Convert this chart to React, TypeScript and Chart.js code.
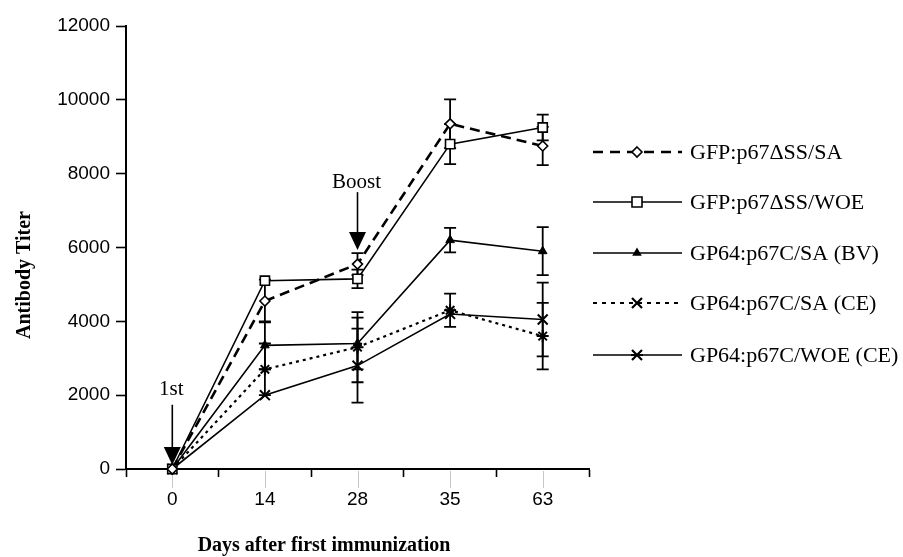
import React, { useEffect, useRef } from 'react';
import { Chart, registerables } from 'chart.js';

Chart.register(...registerables);

// ---------- data ----------
const days = ['0', '14', '28', '35', '63'];
const yMin = 0;
const yMax = 12000;
const yStep = 2000;

const seriesNames = [
  'GFP:p67ΔSS/SA',
  'GFP:p67ΔSS/WOE',
  'GP64:p67C/SA (BV)',
  'GP64:p67C/SA (CE)',
  'GP64:p67C/WOE (CE)',
];

const gfpSA = [0, 4550, 5550, 9350, 8750];
const gfpSAErr = [0, 580, 300, 660, 520];
const gfpWOE = [0, 5100, 5150, 8800, 9250];
const gfpWOEErr = [0, 0, 250, 540, 350];
const gp64BV = [0, 3350, 3400, 6200, 5900];
const gp64BVErr = [0, 650, 700, 330, 650];
const gp64SACE = [0, 2700, 3300, 4300, 3600];
const gp64SACEErr = [0, 700, 950, 450, 900];
const gp64WOECE = [0, 2000, 2800, 4200, 4050];
const gp64WOECEErr = [0, 0, 1000, 0, 1000];

const xTitle = 'Days after first immunization';
const yTitle = 'Antibody Titer';

// annotation arrows: category index, label, label baseline value, tail value, tip value
const arrowCats = [0, 2];
const arrowLabels = ['1st', 'Boost'];
const arrowLabelVals = [2000, 7620];
const arrowTailVals = [1740, 7500];
const arrowTipVals = [110, 5930];

// ---------- styles ----------
const W = 903;
const H = 557;
const legendMarkers = ['diamond', 'square', 'triangle', 'cross', 'star'];
const legendDash = [[10, 7], [], [], [4, 5], []];

function drawMarker(ctx: CanvasRenderingContext2D, kind: string, x: number, y: number) {
  ctx.save();
  ctx.strokeStyle = '#000';
  ctx.lineWidth = 1.6;
  ctx.setLineDash([]);
  ctx.beginPath();
  if (kind === 'diamond') {
    const r = 5;
    ctx.moveTo(x, y - r);
    ctx.lineTo(x + r, y);
    ctx.lineTo(x, y + r);
    ctx.lineTo(x - r, y);
    ctx.closePath();
    ctx.fillStyle = '#fff';
    ctx.fill();
    ctx.stroke();
  } else if (kind === 'square') {
    const r = 5;
    ctx.rect(x - r, y - r, 2 * r, 2 * r);
    ctx.fillStyle = '#fff';
    ctx.fill();
    ctx.stroke();
  } else if (kind === 'triangle') {
    const r = 5.5;
    ctx.moveTo(x, y - r);
    ctx.lineTo(x + r * 0.87, y + r * 0.5);
    ctx.lineTo(x - r * 0.87, y + r * 0.5);
    ctx.closePath();
    ctx.fillStyle = '#000';
    ctx.fill();
  } else if (kind === 'cross') {
    const r = 5;
    ctx.lineWidth = 2.2;
    ctx.moveTo(x - r, y - r);
    ctx.lineTo(x + r, y + r);
    ctx.moveTo(x + r, y - r);
    ctx.lineTo(x - r, y + r);
    ctx.stroke();
  } else if (kind === 'star') {
    const r = 5;
    ctx.lineWidth = 2.2;
    ctx.moveTo(x - r, y - r);
    ctx.lineTo(x + r, y + r);
    ctx.moveTo(x + r, y - r);
    ctx.lineTo(x - r, y + r);
    ctx.moveTo(x - r - 1, y);
    ctx.lineTo(x + r + 1, y);
    ctx.stroke();
  }
  ctx.restore();
}

const errorBarPlugin = {
  id: 'errorBars',
  beforeDatasetsDraw(chart: any) {
    const { ctx, scales } = chart;
    const x = scales.x;
    const y = scales.y;
    ctx.save();
    ctx.strokeStyle = '#000';
    ctx.lineWidth = 1.8;
    ctx.setLineDash([]);
    chart.data.datasets.forEach((ds: any) => {
      const errs: number[] = ds.errors || [];
      ds.data.forEach((v: number, j: number) => {
        const e = errs[j];
        if (!e) return;
        const px = x.getPixelForValue(j);
        const top = y.getPixelForValue(v + e);
        const bot = y.getPixelForValue(v - e);
        ctx.beginPath();
        ctx.moveTo(px, top);
        ctx.lineTo(px, bot);
        ctx.moveTo(px - 6, top);
        ctx.lineTo(px + 6, top);
        ctx.moveTo(px - 6, bot);
        ctx.lineTo(px + 6, bot);
        ctx.stroke();
      });
    });
    // light centre marks under categories
    ctx.strokeStyle = '#c8c8c8';
    ctx.lineWidth = 1;
    days.forEach((_, j) => {
      const px = Math.round(x.getPixelForValue(j)) + 0.5;
      ctx.beginPath();
      ctx.moveTo(px, y.bottom + 2);
      ctx.lineTo(px, y.bottom + 19);
      ctx.stroke();
    });
    ctx.restore();
  },
};

const decorPlugin = {
  id: 'decor',
  afterDraw(chart: any) {
    const { ctx, scales } = chart;
    const x = scales.x;
    const y = scales.y;
    ctx.save();
    // arrows
    arrowCats.forEach((c, i) => {
      const px = x.getPixelForValue(c);
      const tail = y.getPixelForValue(arrowTailVals[i]);
      const tip = y.getPixelForValue(arrowTipVals[i]);
      const headLen = 18;
      ctx.strokeStyle = '#000';
      ctx.fillStyle = '#000';
      ctx.lineWidth = 1.6;
      ctx.beginPath();
      ctx.moveTo(px, tail);
      ctx.lineTo(px, tip - headLen + 1);
      ctx.stroke();
      ctx.beginPath();
      ctx.moveTo(px - 8.5, tip - headLen);
      ctx.lineTo(px + 8.5, tip - headLen);
      ctx.lineTo(px, tip);
      ctx.closePath();
      ctx.fill();
      ctx.font = '21px "Liberation Serif"';
      ctx.textAlign = 'center';
      ctx.textBaseline = 'alphabetic';
      ctx.fillText(arrowLabels[i], px - 1, y.getPixelForValue(arrowLabelVals[i]));
    });

    // axis titles
    ctx.fillStyle = '#000';
    ctx.font = 'bold 20px "Liberation Serif"';
    ctx.textAlign = 'center';
    ctx.textBaseline = 'alphabetic';
    ctx.fillText(xTitle, 324, 551);
    ctx.save();
    ctx.translate(30, 275);
    ctx.rotate(-Math.PI / 2);
    ctx.fillText(yTitle, 0, 0);
    ctx.restore();

    // legend
    const rowY = [152, 202, 253, 303, 355];
    chart.data.datasets.forEach((ds: any, i: number) => {
      const ly = rowY[i];
      ctx.save();
      ctx.strokeStyle = '#000';
      ctx.lineWidth = i === 0 ? 2.4 : i === 3 ? 2 : 1.6;
      ctx.setLineDash(legendDash[i]);
      ctx.beginPath();
      ctx.moveTo(593, ly);
      ctx.lineTo(682, ly);
      ctx.stroke();
      ctx.restore();
      drawMarker(ctx, legendMarkers[i], 637, ly);
      ctx.fillStyle = '#000';
      ctx.font = '22px "Liberation Serif"';
      ctx.textAlign = 'left';
      ctx.textBaseline = 'middle';
      ctx.fillText(ds.label, 690, ly + 1);
    });
    ctx.restore();
  },
};

export default function App() {
  const ref = useRef<HTMLCanvasElement | null>(null);

  useEffect(() => {
    if (!ref.current) return;
    const common = { fill: false, tension: 0, borderColor: '#000', pointBorderColor: '#000', clip: false as any };
    const chart = new Chart(ref.current, {
      type: 'line',
      data: {
        labels: days,
        datasets: [
          {
            ...common,
            label: seriesNames[0],
            data: gfpSA,
            errors: gfpSAErr,
            borderWidth: 2.6,
            borderDash: [10, 6],
            pointStyle: 'rectRot',
            pointRadius: 5,
            pointBorderWidth: 1.6,
            pointBackgroundColor: '#fff',
          } as any,
          {
            ...common,
            label: seriesNames[1],
            data: gfpWOE,
            errors: gfpWOEErr,
            borderWidth: 1.6,
            pointStyle: 'rect',
            pointRadius: 6.5,
            pointBorderWidth: 1.6,
            pointBackgroundColor: '#fff',
          } as any,
          {
            ...common,
            label: seriesNames[2],
            data: gp64BV,
            errors: gp64BVErr,
            borderWidth: 1.6,
            pointStyle: 'triangle',
            pointRadius: 5,
            pointBorderWidth: 1,
            pointBackgroundColor: '#000',
          } as any,
          {
            ...common,
            label: seriesNames[3],
            data: gp64SACE,
            errors: gp64SACEErr,
            borderWidth: 2.2,
            borderDash: [3, 4],
            pointStyle: 'star',
            pointRadius: 6,
            pointBorderWidth: 2,
            pointBackgroundColor: '#000',
          } as any,
          {
            ...common,
            label: seriesNames[4],
            data: gp64WOECE,
            errors: gp64WOECEErr,
            borderWidth: 1.6,
            pointStyle: 'crossRot',
            pointRadius: 7,
            pointBorderWidth: 2,
            pointBackgroundColor: '#000',
          } as any,
        ],
      },
      options: {
        responsive: false,
        animation: false,
        events: [],
        layout: { padding: { left: 0, top: 26, right: 314, bottom: 48 } },
        plugins: {
          legend: { display: false },
          tooltip: { enabled: false },
          title: { display: false },
        },
        scales: {
          x: {
            type: 'category',
            offset: true,
            afterFit: (s: any) => {
              s.height = 40;
            },
            grid: {
              offset: true,
              drawOnChartArea: false,
              tickLength: 8,
              tickColor: '#000',
              tickWidth: 1.6,
            },
            border: { color: '#000', width: 2 },
            ticks: {
              color: '#000',
              padding: 11,
              font: { family: '"Liberation Sans"', size: 19 },
              maxRotation: 0,
            },
          },
          y: {
            min: yMin,
            max: yMax,
            afterFit: (s: any) => {
              s.width = 126;
            },
            grid: {
              drawOnChartArea: false,
              tickLength: 10,
              tickColor: '#000',
              tickWidth: 1.6,
            },
            border: { color: '#000', width: 2 },
            ticks: {
              stepSize: yStep,
              color: '#000',
              padding: 6,
              font: { family: '"Liberation Sans"', size: 19 },
              callback: (v: any) => String(v),
            },
          },
        },
      } as any,
      plugins: [errorBarPlugin, decorPlugin],
    });
    return () => chart.destroy();
  }, []);

  return (
    <div style={{ position: 'fixed', left: 0, top: 0, width: W, height: H, background: '#fff' }}>
      <canvas ref={ref} width={W} height={H} style={{ display: 'block' }} />
    </div>
  );
}
